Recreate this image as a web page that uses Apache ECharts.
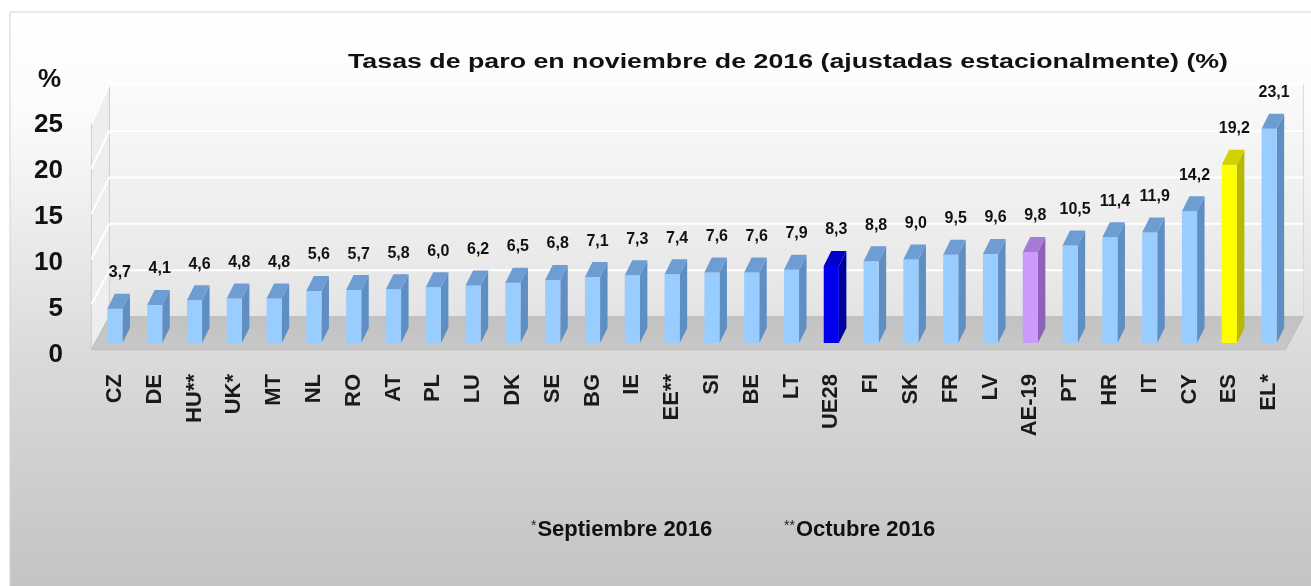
<!DOCTYPE html>
<html>
<head>
<meta charset="utf-8">
<script src="https://cdn.jsdelivr.net/npm/echarts@6/dist/echarts.min.js"></script>
<style>
html,body{margin:0;padding:0;background:#fff;}
#chart{width:1311px;height:586px;}
</style>
</head>
<body>
<div id="chart"></div>
<script>
// ---- data ----
const categories = ['CZ','DE','HU**','UK*','MT','NL','RO','AT','PL','LU','DK','SE','BG','IE','EE**','SI','BE','LT','UE28','FI','SK','FR','LV','AE-19','PT','HR','IT','CY','ES','EL*'];
const values = [3.7,4.1,4.6,4.8,4.8,5.6,5.7,5.8,6.0,6.2,6.5,6.8,7.1,7.3,7.4,7.6,7.6,7.9,8.3,8.8,9.0,9.5,9.6,9.8,10.5,11.4,11.9,14.2,19.2,23.1];
const yTicks = [0,5,10,15,20,25];
const titleText = 'Tasas de paro en noviembre de 2016 (ajustadas estacionalmente) (%)';
const unitLabel = '%';
const note1 = 'Septiembre 2016';
const note2 = 'Octubre 2016';

// ---- styles ----
const FONT = '"Liberation Sans", Arial, sans-serif';
const defaultColors = {front:'#99ccff', side:'#5f8fc2', top:'#6d9dd2'};
const highlight = {
  'UE28': {front:'#0000ee', side:'#00009a', top:'#0000c8'},
  'AE-19': {front:'#cc99ff', side:'#8e62b8', top:'#a57bd6'},
  'ES': {front:'#ffff00', side:'#b8b800', top:'#d2d200'}
};
const FRONT = [-3.6, 6.6];
const BACK = [14.4, -26.4];
const BAR_D = [7.5, -15];
const BAR_W = 0.38;

function measure(text, font){
  const c = document.createElement('canvas').getContext('2d');
  c.font = font; return c.measureText(text).width;
}
const titleFont = 'bold 20px ' + FONT;
const titleScale = 880 / measure(titleText, titleFont);

const chart = echarts.init(document.getElementById('chart'), null, {renderer:'canvas'});

function wallItem(params, api){
  const p0 = api.coord([0, 0]);
  const bw = api.size([1, 0])[0];
  const left = p0[0] - bw/2, right = left + categories.length*bw;
  const y0 = p0[1], yT = api.coord([0, yTicks[yTicks.length-1]])[1];
  const children = [];
  children.push({type:'rect', shape:{x:left+BACK[0], y:yT+BACK[1], width:right-left, height:y0-yT},
    style:{fill:new echarts.graphic.LinearGradient(0,0,0,1,[{offset:0,color:'#fbfbfb'},{offset:1,color:'#e4e4e4'}]), stroke:'#d6d6d6', lineWidth:1}});
  children.push({type:'polygon', shape:{points:[[left+FRONT[0], y0+FRONT[1]],[left+FRONT[0], yT+FRONT[1]+6],[left+BACK[0], yT+BACK[1]],[left+BACK[0], y0+BACK[1]]]},
    style:{fill:'#eeeeee', stroke:'#cfcfcf', lineWidth:1}});
  yTicks.forEach(function(t){
    if (t === 0) return;
    const y = api.coord([0, t])[1];
    children.push({type:'line', shape:{x1:left+BACK[0], y1:y+BACK[1], x2:right+BACK[0], y2:y+BACK[1]}, style:{stroke:'#ffffff', lineWidth:2}});
    children.push({type:'line', shape:{x1:left+FRONT[0], y1:y+FRONT[1]+(t/25)*6, x2:left+BACK[0], y2:y+BACK[1]}, style:{stroke:'#ffffff', lineWidth:2}});
  });
  children.push({type:'polygon', shape:{points:[[left+FRONT[0], y0+FRONT[1]],[right+FRONT[0], y0+FRONT[1]],[right+BACK[0], y0+BACK[1]],[left+BACK[0], y0+BACK[1]]]},
    style:{fill:new echarts.graphic.LinearGradient(0,0,0,1,[{offset:0,color:'#c2c2c2'},{offset:1,color:'#c8c8c8'}]), stroke:'#bdbdbd', lineWidth:1}});
  return {type:'group', children:children};
}

function barItem(params, api){
  const i = api.value(0), v = api.value(1);
  const base = api.coord([i, 0]), top = api.coord([i, v]);
  const bw = api.size([1, 0])[0];
  const w = bw * BAR_W;
  const x = base[0] - w/2;
  const col = highlight[categories[i]] || defaultColors;
  const dx = BAR_D[0], dy = BAR_D[1];
  return {type:'group', children:[
    {type:'polygon', shape:{points:[[x+w, top[1]],[x+w+dx, top[1]+dy],[x+w+dx, base[1]+dy],[x+w, base[1]]]}, style:{fill:col.side}},
    {type:'rect', shape:{x:x, y:top[1], width:w, height:base[1]-top[1]}, style:{fill:col.front}},
    {type:'polygon', shape:{points:[[x, top[1]],[x+dx, top[1]+dy],[x+w+dx, top[1]+dy],[x+w, top[1]]]}, style:{fill:col.top}},
    {type:'text', x: base[0] + 5, y: top[1] + dy - 13,
      style:{text: v.toFixed(1).replace('.', ','), font:'bold 16px ' + FONT, fill:'#111', align:'center', verticalAlign:'bottom'}}
  ]};
}

const option = {
  backgroundColor:'#ffffff',
  animation:false,
  title:[
    {text: unitLabel, left: 33, top: 62, padding: 5, textStyle:{fontFamily:FONT, fontWeight:'bold', fontSize:26, color:'#111'}}
  ],
  graphic:[
    {type:'rect', z:-100, silent:true, shape:{x:10, y:12, width:1310, height:580},
      style:{fill:new echarts.graphic.LinearGradient(0,0,0,1,[{offset:0,color:'#ffffff'},{offset:0.18,color:'#fbfbfb'},{offset:0.6,color:'#dadada'},{offset:1,color:'#c3c3c3'}]), stroke:'#d3d3d3', lineWidth:1}},
    {type:'text', z:10, x:348, y:62, scaleX:titleScale, scaleY:1,
      style:{text:titleText, font:titleFont, fill:'#111', align:'left', verticalAlign:'middle'}},
    {type:'text', z:10, x:531, y:530,
      style:{text:'{a|*}{b|' + note1 + '}', align:'left', verticalAlign:'middle',
        rich:{a:{font:'14px ' + FONT, fill:'#222', verticalAlign:'top', padding:[0,1,8,0]}, b:{font:'bold 22px ' + FONT, fill:'#111'}}}},
    {type:'text', z:10, x:784, y:530,
      style:{text:'{a|**}{b|' + note2 + '}', align:'left', verticalAlign:'middle',
        rich:{a:{font:'14px ' + FONT, fill:'#222', verticalAlign:'top', padding:[0,1,8,0]}, b:{font:'bold 22px ' + FONT, fill:'#111'}}}}
  ],
  grid:[
    {left:95, right:22, top:111, bottom:243},
    {left:75, width:1, top:125, bottom:231}
  ],
  xAxis:[
    {type:'category', gridIndex:0, data:categories, boundaryGap:true,
      axisLine:{show:false}, axisTick:{show:false}, splitLine:{show:false},
      axisLabel:{rotate:90, margin:31, interval:0, fontFamily:FONT, fontWeight:'bold', fontSize:22, color:'#1a1a1a'}},
    {type:'value', gridIndex:1, show:false}
  ],
  yAxis:[
    {type:'value', gridIndex:0, min:0, max:25, interval:5, show:false},
    {type:'value', gridIndex:1, min:0, max:25, interval:5,
      axisLine:{show:false}, axisTick:{show:false}, splitLine:{show:false},
      axisLabel:{margin:12, fontFamily:FONT, fontWeight:'bold', fontSize:26, color:'#111',
        formatter:function(v){ return yTicks.indexOf(v) >= 0 ? String(v) : ''; }}}
  ],
  series:[
    {type:'custom', name:'walls', xAxisIndex:0, yAxisIndex:0, z:1, silent:true, renderItem:wallItem, data:[[0,0]]},
    {type:'custom', name:'Tasa de paro', xAxisIndex:0, yAxisIndex:0, z:3, renderItem:barItem,
      data: values.map(function(v, i){ return [i, v]; })}
  ]
};
chart.setOption(option);
</script>
</body>
</html>
